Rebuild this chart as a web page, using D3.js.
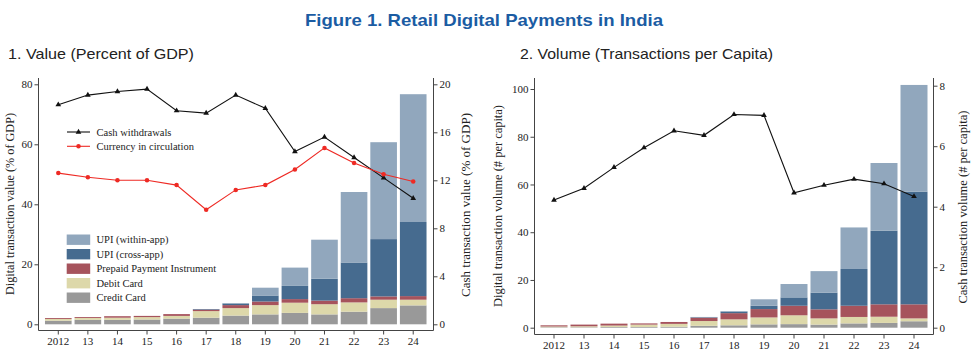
<!DOCTYPE html>
<html>
<head>
<meta charset="utf-8">
<script src="https://cdn.jsdelivr.net/npm/d3@7"></script>
<style>
  body { margin: 0; background: #fff; }
  svg { display: block; font-family: "Liberation Serif", "Times New Roman", serif; }
</style>
</head>
<body>
<svg id="chart" width="971" height="358"></svg>
<script>
// ---- data ----
var yearLabels = ["2012", "13", "14", "15", "16", "17", "18", "19", "20", "21", "22", "23", "24"];

var seriesKeys = ["credit", "debit", "ppi", "upiCross", "upiWithin"];
var seriesNames = ["Credit Card", "Debit Card", "Prepaid Payment Instrument", "UPI (cross-app)", "UPI (within-app)"];
var seriesColors = ["#999999", "#ddd8aa", "#a6535c", "#466b8f", "#91a7bd"];

// panel 1: value, % of GDP
var valCredit    = [1.2, 1.5, 1.5, 1.6, 1.9, 2.2, 2.9, 3.3, 3.8, 3.3, 4.2, 5.4, 6.3];
var valDebit     = [0.6, 0.6, 0.7, 0.8, 0.9, 2.2, 2.5, 3.1, 3.4, 3.4, 3.1, 2.8, 1.9];
var valPpi       = [0.3, 0.3, 0.5, 0.4, 0.6, 0.5, 1.0, 1.2, 1.2, 1.2, 1.4, 1.1, 1.2];
var valUpiCross  = [0, 0, 0, 0, 0, 0.2, 0.5, 2.0, 4.4, 7.3, 11.9, 19.1, 24.7];
var valUpiWithin = [0, 0, 0, 0, 0, 0, 0.2, 2.6, 6.1, 13.0, 23.5, 32.3, 42.6];
var valCashWithdrawals = [18.3, 19.1, 19.4, 19.6, 17.8, 17.6, 19.1, 18.0, 14.4, 15.6, 13.9, 12.2, 10.5];
var valCurrency        = [12.6, 12.25, 12.0, 12.0, 11.6, 9.55, 11.2, 11.6, 12.9, 14.7, 13.45, 12.5, 11.9];

// panel 2: volume, transactions per capita
var volCredit    = [0.2, 0.2, 0.3, 0.3, 0.4, 0.8, 1.0, 1.4, 1.5, 1.3, 1.8, 2.0, 2.7];
var volDebit     = [0.3, 0.4, 0.6, 1.0, 1.2, 2.0, 2.5, 2.9, 3.7, 2.6, 2.7, 2.6, 1.2];
var volPpi       = [0.5, 0.7, 0.8, 0.5, 0.8, 1.4, 2.6, 3.5, 4.0, 3.8, 4.7, 5.2, 5.9];
var volUpiCross  = [0, 0, 0, 0, 0, 0.2, 0.6, 1.4, 3.5, 7.0, 15.4, 30.8, 47.2];
var volUpiWithin = [0, 0, 0, 0, 0, 0.1, 0.3, 2.7, 5.6, 9.0, 17.4, 28.4, 44.7];
var volCashWithdrawals = [4.22, 4.61, 5.30, 5.95, 6.51, 6.36, 7.05, 7.02, 4.46, 4.71, 4.91, 4.76, 4.34];

function buildRows(cols) {
  return yearLabels.map(function(y, i) {
    var r = { year: y };
    seriesKeys.forEach(function(k, j) { r[k] = cols[j][i]; });
    return r;
  });
}

var svg = d3.select("#chart");
var sansNarrow = "'Liberation Sans Narrow', 'Liberation Sans', Arial, sans-serif";

// ---- titles ----
svg.append("text")
  .attr("x", 484).attr("y", 26)
  .attr("text-anchor", "middle")
  .attr("font-family", sansNarrow)
  .attr("font-weight", "bold").attr("font-size", 17)
  .attr("fill", "#1b5ca3")
  .attr("textLength", 358).attr("lengthAdjust", "spacingAndGlyphs")
  .text("Figure 1. Retail Digital Payments in India");

svg.append("text")
  .attr("x", 8).attr("y", 59)
  .attr("font-family", sansNarrow)
  .attr("font-size", 15).attr("fill", "#222")
  .attr("textLength", 186).attr("lengthAdjust", "spacingAndGlyphs")
  .text("1. Value (Percent of GDP)");

svg.append("text")
  .attr("x", 520).attr("y", 59)
  .attr("font-family", sansNarrow)
  .attr("font-size", 15).attr("fill", "#222")
  .attr("textLength", 253).attr("lengthAdjust", "spacingAndGlyphs")
  .text("2. Volume (Transactions per Capita)");

// ---- panel drawing ----
function drawPanel(cfg) {
  var g = svg.append("g");
  var axisColor = "#444";

  var x = d3.scaleBand()
    .domain(yearLabels)
    .range([cfg.barLeft, cfg.barRight])
    .paddingInner(0.1).paddingOuter(0.05);

  var yL = d3.scaleLinear().domain(cfg.leftDomain).range(cfg.leftRange);
  var yR = d3.scaleLinear().domain(cfg.rightDomain).range(cfg.rightRange);

  var stacked = d3.stack().keys(seriesKeys)(cfg.rows);

  g.selectAll("g.layer")
    .data(stacked)
    .enter().append("g")
    .attr("fill", function(d, i) { return seriesColors[i]; })
    .selectAll("rect")
    .data(function(d) { return d; })
    .enter().append("rect")
    .attr("x", function(d) { return x(d.data.year); })
    .attr("width", x.bandwidth())
    .attr("y", function(d) { return yL(d[1]); })
    .attr("height", function(d) { return Math.max(0, yL(d[0]) - yL(d[1])); });

  // lines on the right axis
  cfg.lines.forEach(function(ln) {
    var line = d3.line()
      .x(function(d, i) { return x(yearLabels[i]) + x.bandwidth() / 2; })
      .y(function(d) { return yR(d); });
    g.append("path")
      .datum(ln.values)
      .attr("fill", "none")
      .attr("stroke", ln.color)
      .attr("stroke-width", 1.1)
      .attr("d", line);
    var sym = d3.symbol().type(ln.marker === "circle" ? d3.symbolCircle : d3.symbolTriangle)
      .size(ln.marker === "circle" ? 16 : 14);
    g.selectAll(null)
      .data(ln.values)
      .enter().append("path")
      .attr("d", sym)
      .attr("fill", ln.color)
      .attr("transform", function(d, i) {
        return "translate(" + (x(yearLabels[i]) + x.bandwidth() / 2) + "," + yR(d) + ")";
      });
  });

  // axis frame
  g.append("path")
    .attr("d", "M" + cfg.axisLeft + "," + cfg.axisTop + "V" + cfg.axisBottom +
               "H" + cfg.axisRight + "V" + cfg.axisTop)
    .attr("fill", "none").attr("stroke", axisColor).attr("stroke-width", 1);

  var ax = g.append("g")
    .attr("transform", "translate(0," + cfg.axisBottom + ")")
    .call(d3.axisBottom(x).tickSize(4).tickSizeOuter(0).tickPadding(3));
  var al = g.append("g")
    .attr("transform", "translate(" + cfg.axisLeft + ",0)")
    .call(d3.axisLeft(yL).tickValues(cfg.leftTicks).tickSize(4).tickPadding(2));
  var ar = g.append("g")
    .attr("transform", "translate(" + cfg.axisRight + ",0)")
    .call(d3.axisRight(yR).tickValues(cfg.rightTicks).tickSize(4).tickPadding(2));

  [ax, al, ar].forEach(function(a) {
    a.select(".domain").remove();
    a.selectAll("line").attr("stroke", axisColor);
    a.selectAll("text")
      .attr("font-family", "'Liberation Serif', 'Times New Roman', serif")
      .attr("font-size", 11).attr("fill", "#222");
  });

  // axis titles
  g.append("text")
    .attr("transform", "translate(" + cfg.leftTitleX + "," + cfg.leftTitleY + ") rotate(-90)")
    .attr("text-anchor", "middle").attr("font-size", 12.5).attr("fill", "#222")
    .attr("textLength", cfg.leftTitleLen).attr("lengthAdjust", "spacingAndGlyphs")
    .text(cfg.leftTitle);
  g.append("text")
    .attr("transform", "translate(" + cfg.rightTitleX + "," + cfg.rightTitleY + ") rotate(-90)")
    .attr("text-anchor", "middle").attr("font-size", 12.5).attr("fill", "#222")
    .attr("textLength", cfg.rightTitleLen).attr("lengthAdjust", "spacingAndGlyphs")
    .text(cfg.rightTitle);

  return { g: g, x: x };
}

var p1 = drawPanel({
  rows: buildRows([valCredit, valDebit, valPpi, valUpiCross, valUpiWithin]),
  barLeft: 43.5, barRight: 428,
  leftDomain: [0, 80], leftRange: [324.3, 84.3], leftTicks: [0, 20, 40, 60, 80],
  rightDomain: [0, 20], rightRange: [324.3, 84.3], rightTicks: [0, 4, 8, 12, 16, 20],
  axisLeft: 38.5, axisRight: 433.5, axisTop: 78, axisBottom: 330.5,
  lines: [
    { values: valCashWithdrawals, color: "#111", marker: "triangle" },
    { values: valCurrency, color: "#ee2a24", marker: "circle" }
  ],
  leftTitle: "Digital transaction value (% of GDP)",
  rightTitle: "Cash transaction value (% of GDP)",
  leftTitleX: 14, leftTitleY: 204, leftTitleLen: 182,
  rightTitleX: 470, rightTitleY: 205, rightTitleLen: 184
});

var p2 = drawPanel({
  rows: buildRows([volCredit, volDebit, volPpi, volUpiCross, volUpiWithin]),
  barLeft: 539, barRight: 929,
  leftDomain: [0, 100], leftRange: [327.7, 89], leftTicks: [0, 20, 40, 60, 80, 100],
  rightDomain: [0, 8], rightRange: [327.7, 85.7], rightTicks: [0, 2, 4, 6, 8],
  axisLeft: 534.5, axisRight: 933.5, axisTop: 78, axisBottom: 334.5,
  lines: [
    { values: volCashWithdrawals, color: "#111", marker: "triangle" }
  ],
  leftTitle: "Digital transaction volume (# per capita)",
  rightTitle: "Cash transaction volume (# per capita)",
  leftTitleX: 502, leftTitleY: 206, leftTitleLen: 202,
  rightTitleX: 967, rightTitleY: 207, rightTitleLen: 193
});

// ---- legend (panel 1) ----
var legend = svg.append("g").attr("font-size", 10.5).attr("fill", "#222");

var lineLegend = [
  { name: "Cash withdrawals", color: "#111", marker: d3.symbolTriangle, size: 14 },
  { name: "Currency in circulation", color: "#ee2a24", marker: d3.symbolCircle, size: 16 }
];
lineLegend.forEach(function(d, i) {
  var y = 132 + i * 14.3;
  legend.append("line")
    .attr("x1", 67).attr("x2", 90).attr("y1", y).attr("y2", y)
    .attr("stroke", d.color).attr("stroke-width", 1.1);
  legend.append("path")
    .attr("d", d3.symbol().type(d.marker).size(d.size))
    .attr("fill", d.color)
    .attr("transform", "translate(78.5," + y + ")");
  legend.append("text")
    .attr("x", 96.5).attr("y", y).attr("dy", "0.35em")
    .text(d.name);
});

var barLegendOrder = [4, 3, 2, 1, 0];
barLegendOrder.forEach(function(k, i) {
  var y = 239.7 + i * 14.5;
  legend.append("rect")
    .attr("x", 66.7).attr("y", y - 5.2)
    .attr("width", 23.5).attr("height", 10.4)
    .attr("fill", seriesColors[k]);
  legend.append("text")
    .attr("x", 96.5).attr("y", y).attr("dy", "0.35em")
    .text(seriesNames[k]);
});
</script>
</body>
</html>
